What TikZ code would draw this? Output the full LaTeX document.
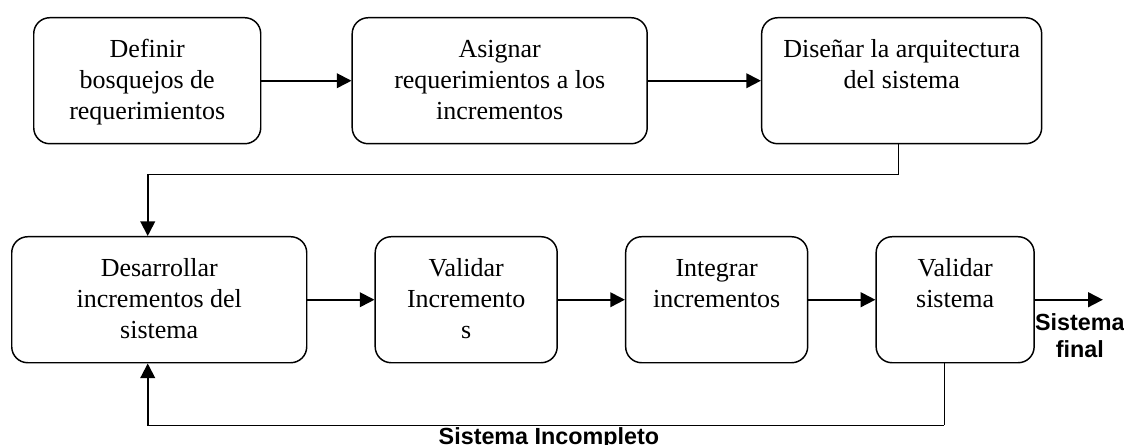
\documentclass[tikz,border=0pt]{standalone}
\usepackage{fontspec}
\setmainfont{Liberation Serif}
\newfontfamily\labelfont{Liberation Sans}
\usetikzlibrary{arrows.meta,positioning,calc}

% box text: fixed width and height, set from the top
\newcommand{\stagetext}[2]{\parbox[c][94.5pt][t]{#1}{\centering\rule{0pt}{30pt}#2}}

\begin{document}
\begin{tikzpicture}[
    node distance=50.25pt,
    stage node/.style={draw,rounded corners=12pt,inner sep=0pt,line width=1.1pt,font=\fontsize{19.5}{23.25}\selectfont},
    flow/.style={line width=1.4pt,-{Triangle[length=11pt,width=11pt]}},
    link/.style={line width=0.9pt},
    out label/.style={inner sep=0pt,align=center,font=\labelfont\bfseries\fontsize{17.5}{20.25}\selectfont}
]
\useasboundingbox (0,0) rectangle (843pt,-333.75pt);

% First row
\node[stage node, anchor=north west] (define) at (24.75pt,-12.75pt) {\stagetext{170.25pt}{Definir\\bosquejos de\\requerimientos}};
\node[stage node, right=67.5pt of define] (assign) {\stagetext{221.25pt}{Asignar\\requerimientos a los\\incrementos}};
\node[stage node, right=84.75pt of assign] (design) {\stagetext{210pt}{Diseñar la arquitectura\\del sistema}};

% Second row
\node[stage node, anchor=north west] (develop) at (8.25pt,-177pt) {\stagetext{221.25pt}{Desarrollar\\incrementos del\\sistema}};
\node[stage node, right=of develop] (validate_inc) {\stagetext{136.5pt}{Validar\\Incremento\\s}};
\node[stage node, right=of validate_inc] (integrate) {\stagetext{136.5pt}{Integrar\\incrementos}};
\node[stage node, right=of integrate] (validate_sys) {\stagetext{118.5pt}{Validar\\sistema}};

% Free ends and corners
\coordinate (exit) at ([xshift=51pt]validate_sys.east);
\coordinate (drop) at ([shift={(-2.25pt,-22.5pt)}]design.south);
\coordinate (develop_in) at ([xshift=-8.625pt]develop.north);
\coordinate (develop_back) at ([xshift=-8.625pt]develop.south);
\coordinate (loop_start) at ([xshift=-8.25pt]validate_sys.south);
\coordinate (loop_right) at ([yshift=-46.5pt]loop_start);
\coordinate (loop_left) at (loop_right -| develop_back);

% Arrows
\draw[flow] (define) -- (assign);
\draw[flow] (assign) -- (design);
\draw[link] (drop |- design.south) -- (drop);
\draw[flow] (drop) -| (develop_in);

\draw[flow] (develop) -- (validate_inc);
\draw[flow] (validate_inc) -- (integrate);
\draw[flow] (integrate) -- (validate_sys);
\draw[flow] (validate_sys) -- (exit);

% Feedback loop
\draw[link] (loop_start) -- (loop_right);
\draw[flow] (loop_right) -- (loop_left) -- (develop_back);

% Labels
\node[out label, anchor=north] (final) at ([shift={(8.25pt,-10.5pt)}]$(validate_sys.east)!0.5!(exit)$) {Sistema\\final};
\node[out label, anchor=north] (incomplete) at ([shift={(2.25pt,-1.5pt)}]$(loop_left)!0.5!(loop_right)$) {Sistema Incompleto};

\end{tikzpicture}
\end{document}
